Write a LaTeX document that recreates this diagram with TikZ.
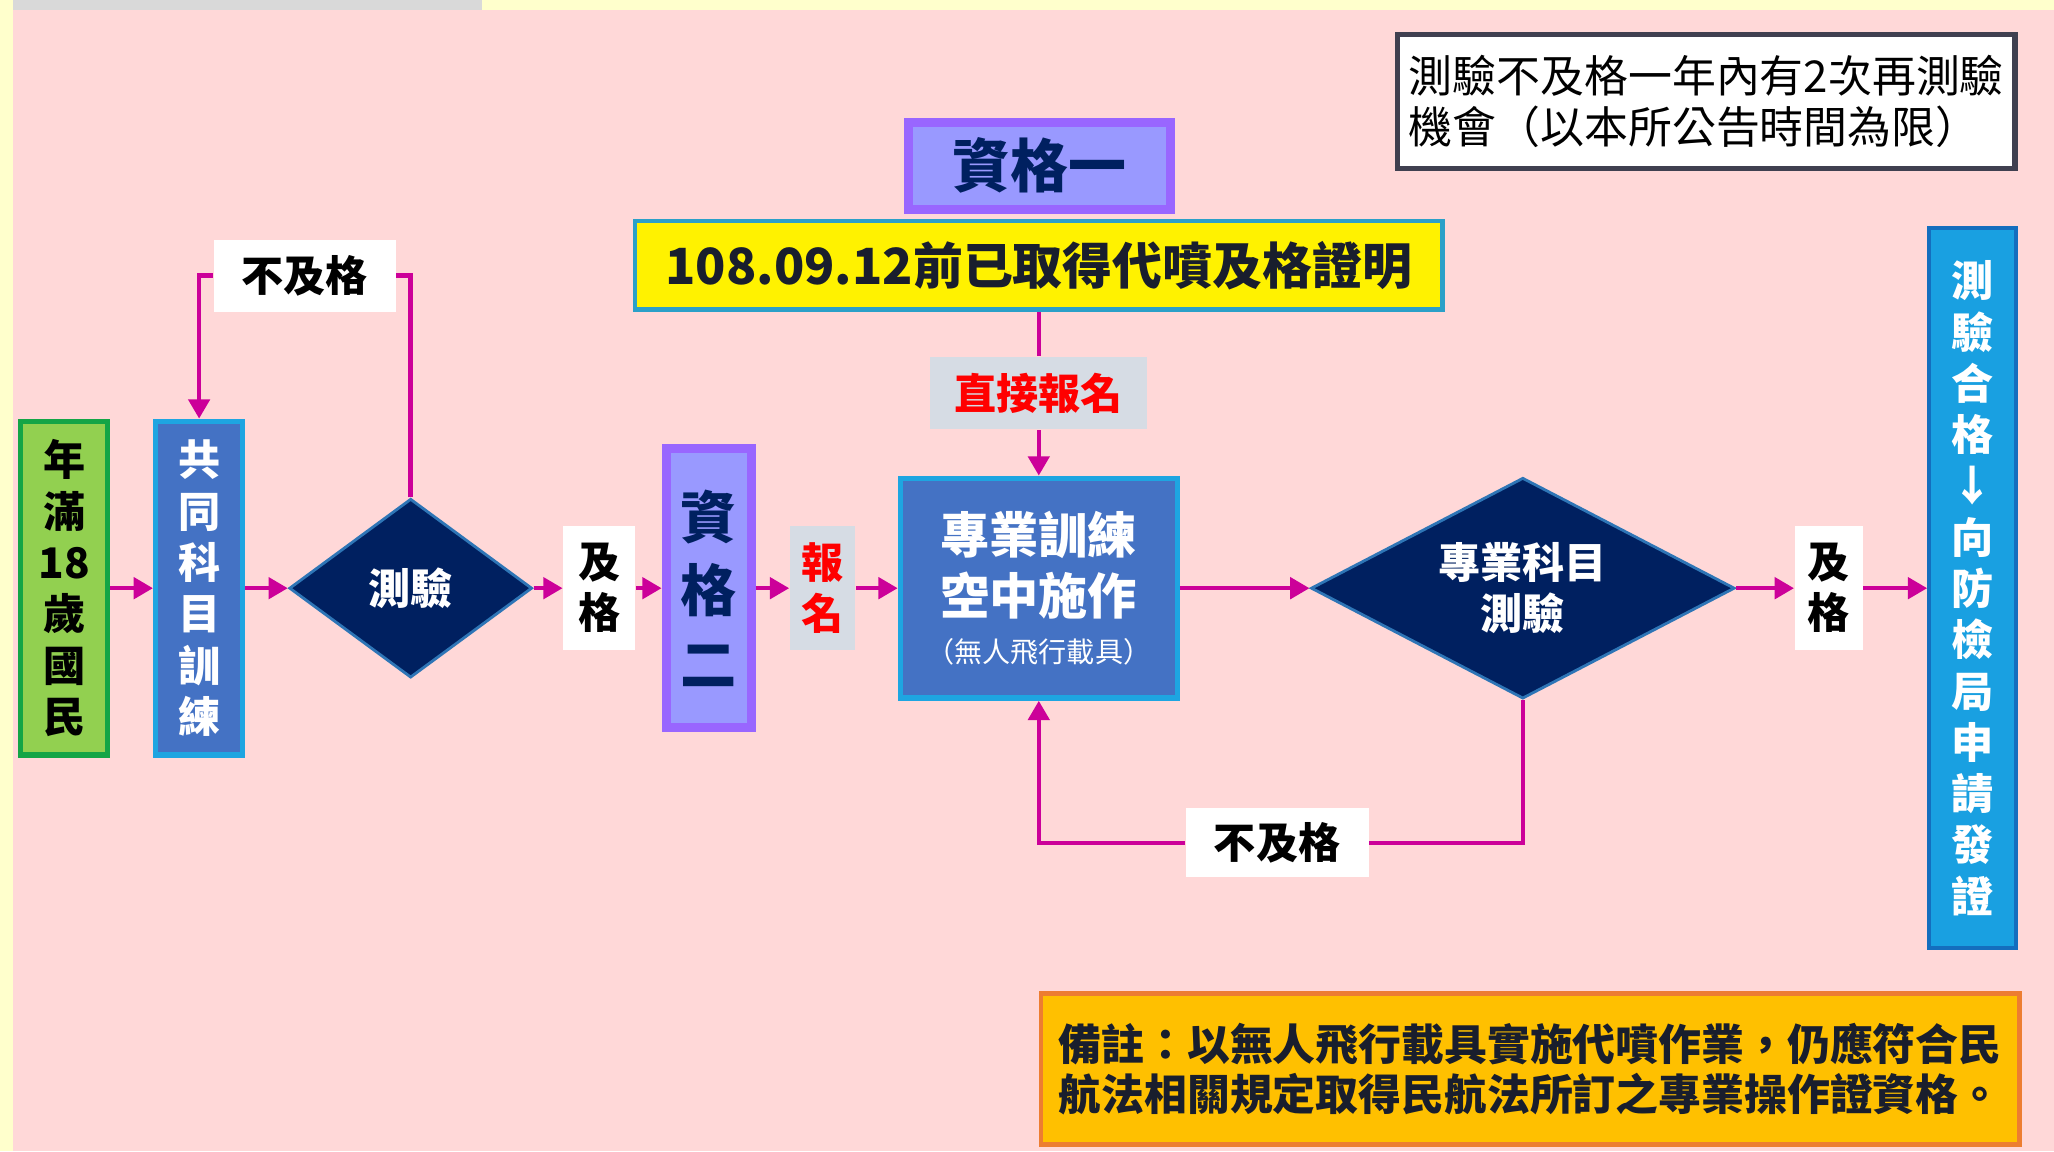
\documentclass[tikz,border=0pt]{standalone}
\usepackage{fontspec}
\setmainfont{Noto Sans CJK TC}
\usetikzlibrary{shapes.geometric,arrows.meta}

\definecolor{bgpink}{RGB}{255,216,216}
\definecolor{stripyellow}{RGB}{255,255,204}
\definecolor{stripgrey}{RGB}{217,217,217}
\definecolor{flowmag}{RGB}{204,0,153}
\definecolor{navyfill}{RGB}{0,32,96}
\definecolor{boxblue}{RGB}{68,114,196}
\definecolor{edgecyan}{RGB}{30,165,225}
\definecolor{leafgreen}{RGB}{146,208,80}
\definecolor{edgegreen}{RGB}{20,165,70}
\definecolor{lilac}{RGB}{153,153,255}
\definecolor{qualedge}{RGB}{153,102,255}
\definecolor{skyfill}{RGB}{25,160,225}
\definecolor{deepblue}{RGB}{20,110,190}
\definecolor{labelgrey}{RGB}{214,220,228}
\definecolor{noteorange}{RGB}{255,192,0}
\definecolor{noteedge}{RGB}{237,125,49}
\definecolor{certedge}{RGB}{43,160,200}
\definecolor{diaedge}{RGB}{46,117,182}
\definecolor{darkedge}{RGB}{64,64,80}
\definecolor{inkdark}{RGB}{25,30,45}

\begin{document}
\begin{tikzpicture}[x=0.0131cm, y=-0.0131cm,
    flowarrow/.style={draw=flowmag, line width=1.3pt, -{Triangle[length=5.5pt,width=6pt]}},
    plainline/.style={draw=flowmag, line width=1.3pt},
    passtag/.style={rectangle, fill=white, inner sep=0pt, align=center, font=\bfseries\fontsize{12}{14.5}\selectfont},
    colbox/.style={rectangle, inner sep=0pt, minimum width=0.87cm, line width=1.5pt, align=center, font=\bfseries\fontsize{12}{14.6}\selectfont},
    quiz/.style={diamond, fill=navyfill, draw=diaedge, line width=0.8pt, inner sep=0pt, text=white, align=center, font=\bfseries\fontsize{12}{14.5}\selectfont},
    qual/.style={rectangle, fill=lilac, draw=qualedge, line width=2.6pt, inner sep=0pt, text=navyfill, align=center},
  ]
      \fill[bgpink] (0,0) rectangle (1568,879);
      \fill[stripyellow] (0,0) rectangle (10,879);
      \fill[stripgrey] (10,0) rectangle (368,8);
      \fill[stripyellow] (368,0) rectangle (1568,8);
      \useasboundingbox (0,0) rectangle (1568,879);

      \node[colbox, fill=leafgreen, draw=edgegreen, minimum height=3.34cm] (age) at (49,449) {年\\滿\\18\\歲\\國\\民};
      \node[colbox, fill=boxblue, draw=edgecyan, text=white, minimum height=3.34cm] (common) at (152,449) {共\\同\\科\\目\\訓\\練};
      \node[quiz, aspect=1.36, minimum width=2.43cm, minimum height=1.79cm] (test1) at (313.5,449) {測驗};
      \node[passtag, minimum width=0.72cm, minimum height=1.245cm] (pass1) at (457.5,449) {及\\格};
      \node[qual, minimum width=0.85cm, minimum height=2.79cm, font=\bfseries\fontsize{16}{21}\selectfont] (qual2) at (541,449) {資\\格\\二};
      \node[passtag, fill=labelgrey, text=red, minimum width=0.655cm, minimum height=1.245cm] (enroll) at (628,449) {報\\名};
      \node[rectangle, fill=boxblue, draw=edgecyan, line width=1.5pt, text=white, inner sep=0pt, minimum width=2.77cm, minimum height=2.2cm, align=center, font=\fontsize{14}{17.5}\selectfont] (pro) at (793,449)
        {\bfseries 專業訓練\\\bfseries 空中施作\\[-3.7pt]{\fontsize{8}{10}\selectfont （無人飛行載具）}};
      \node[quiz, aspect=1.92, minimum width=4.24cm, minimum height=2.21cm] (test2) at (1162.5,449) {專業科目\\測驗};
      \node[passtag, minimum width=0.68cm, minimum height=1.245cm] (pass2) at (1396,449) {及\\格};
      \node[colbox, fill=skyfill, draw=deepblue, line width=1.2pt, text=white, minimum height=7.2cm] (issue) at (1506,449) {測\\驗\\合\\格\\↓\\向\\防\\檢\\局\\申\\請\\發\\證};

      \node[passtag, minimum width=1.82cm, minimum height=0.72cm] (fail1) at (232.5,210.5) {不及格};
      \node[passtag, minimum width=1.83cm, minimum height=0.69cm] (fail2) at (975,643.5) {不及格};

      \node[qual, minimum width=2.62cm, minimum height=0.87cm, font=\bfseries\fontsize{16.5}{20}\selectfont] (qual1) at (793.5,126.5) {資格一};
      \node[rectangle, fill=yellow, draw=certedge, line width=1.3pt, inner sep=0pt, minimum width=8.08cm, minimum height=0.89cm, text=inkdark, font=\bfseries\fontsize{14.2}{17}\selectfont] (cert) at (793,202.5) {108.09.12前已取得代噴及格證明};
      \node[passtag, fill=labelgrey, text=red, minimum width=2.17cm, minimum height=0.73cm] (direct) at (793,300) {直接報名};

      \node[rectangle, fill=white, draw=darkedge, line width=1.6pt, inner sep=0pt, minimum width=6.18cm, minimum height=1.34cm, align=left, font=\fontsize{12.5}{14.5}\selectfont] (retest) at (1302.5,77.5)
        {測驗不及格一年內有2次再測驗\\機會（以本所公告時間為限）};
      \node[rectangle, fill=noteorange, draw=noteedge, line width=1.3pt, inner sep=0pt, minimum width=9.79cm, minimum height=1.51cm, align=left, text=inkdark, font=\bfseries\fontsize{12.2}{14.1}\selectfont] (remark) at (1168,816)
        {備註：以無人飛行載具實施代噴作業，仍應符合民\\航法相關規定取得民航法所訂之專業操作證資格。};

      \draw[flowarrow] (age) -- (common);
      \draw[flowarrow] (common) -- (test1);
      \draw[flowarrow] (test1) -- (pass1);
      \draw[flowarrow] (pass1) -- (qual2);
      \draw[flowarrow] (qual2) -- (enroll);
      \draw[flowarrow] (enroll) -- (pro);
      \draw[flowarrow] (pro) -- (test2);
      \draw[flowarrow] (test2) -- (pass2);
      \draw[flowarrow] (pass2) -- (issue);
      \draw[plainline] (cert) -- (direct);
      \draw[flowarrow] (direct) -- (pro);
      \draw[plainline] (test1.north) |- (fail1.east);
      \draw[flowarrow] (fail1.west) -| (common.north);
      \draw[plainline] (test2.south) |- (fail2.east);
      \draw[flowarrow] (fail2.west) -| (pro.south);
  \end{tikzpicture}
\end{document}
